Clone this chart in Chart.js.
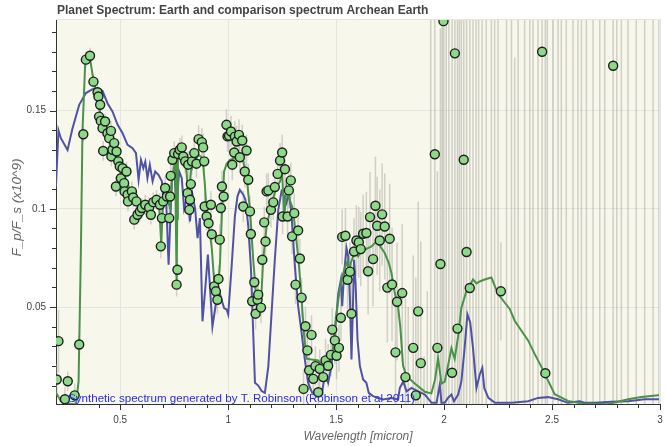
<!DOCTYPE html>
<html>
<head>
<meta charset="utf-8">
<title>Planet Spectrum</title>
<script src="https://cdn.jsdelivr.net/npm/chart.js@4.4.1/dist/chart.umd.min.js"></script>
<style>
    html, body { margin: 0; padding: 0; background: #fff; }
    #wrap { width: 666px; height: 446px; }
</style>
</head>
<body>
<div id="wrap"><canvas id="spectrumChart" width="666" height="446"></canvas></div>
<script>
// observed (binned) spectrum: wavelength [micron], F_p/F_s (x10^9), 1-sigma error
const obsWave = [
    0.206, 0.214, 0.244, 0.257, 0.289, 0.310, 0.329, 0.341, 0.360, 0.376,
    0.395, 0.399, 0.402, 0.407, 0.410, 0.418, 0.421, 0.430, 0.441, 0.449,
    0.457, 0.459, 0.464, 0.472, 0.480, 0.483, 0.491, 0.498, 0.503, 0.511,
    0.518, 0.520, 0.529, 0.534, 0.536, 0.554, 0.560, 0.565, 0.575, 0.580,
    0.591, 0.600, 0.616, 0.634, 0.642, 0.653, 0.668, 0.684, 0.688, 0.693,
    0.699, 0.708, 0.716, 0.727, 0.731, 0.734, 0.742, 0.750, 0.761, 0.765,
    0.768, 0.776, 0.785, 0.792, 0.801, 0.812, 0.815, 0.820, 0.823, 0.827,
    0.832, 0.843, 0.853, 0.863, 0.878, 0.884, 0.889, 0.891, 0.900, 0.909,
    0.920, 0.924, 0.935, 0.943, 0.950, 0.955, 0.961, 0.966, 0.971, 0.979,
    0.992, 0.997, 1.004, 1.013, 1.019, 1.028, 1.031, 1.039, 1.050, 1.054,
    1.065, 1.070, 1.077, 1.085, 1.093, 1.101, 1.105, 1.111, 1.121, 1.127,
    1.136, 1.139, 1.152, 1.158, 1.167, 1.173, 1.178, 1.186, 1.198, 1.209,
    1.216, 1.229, 1.240, 1.250, 1.252, 1.263, 1.275, 1.281, 1.290, 1.296,
    1.306, 1.312, 1.324, 1.332, 1.340, 1.349, 1.358, 1.367, 1.375, 1.386,
    1.394, 1.404, 1.417, 1.424, 1.440, 1.451, 1.463, 1.476, 1.482, 1.494,
    1.502, 1.513, 1.522, 1.528, 1.543, 1.553, 1.564, 1.571, 1.583, 1.594,
    1.605, 1.614, 1.625, 1.640, 1.648, 1.657, 1.671, 1.682, 1.690, 1.702,
    1.713, 1.725, 1.737, 1.748, 1.759, 1.775, 1.782, 1.806, 1.821, 1.834,
    1.857, 1.869, 1.880, 1.892, 1.907, 1.922, 1.938, 1.957, 1.969, 1.983,
    1.991, 1.997, 2.010, 2.022, 2.037, 2.050, 2.062, 2.071, 2.080, 2.091,
    2.104, 2.119, 2.134, 2.148, 2.160, 2.176, 2.195, 2.219, 2.234, 2.250,
    2.263, 2.289, 2.312, 2.327, 2.343, 2.373, 2.397, 2.412, 2.435, 2.454,
    2.469, 2.478, 2.505, 2.528, 2.543, 2.566, 2.597, 2.620, 2.636, 2.659,
    2.690, 2.721, 2.744, 2.783, 2.800, 2.821, 2.852, 2.890, 2.929, 2.968,
    2.995
];
const obsFlux = [
    0.0131, 0.0326, 0.0030, 0.0122, 0.0050, 0.0309, 0.1380, 0.1760, 0.1780, 0.1648,
    0.1594, 0.1572, 0.1470, 0.1530, 0.1448, 0.1411, 0.1295, 0.1445, 0.1385, 0.1360,
    0.1397, 0.1267, 0.1301, 0.1335, 0.1114, 0.1292, 0.1242, 0.1216, 0.1156, 0.1207,
    0.1131, 0.1089, 0.1190, 0.1072, 0.1038, 0.1089, 0.1058, 0.0945, 0.1038, 0.0970,
    0.0987, 0.1004, 0.1021, 0.1007, 0.0970, 0.1034, 0.1046, 0.1021, 0.0809, 0.0953,
    0.1038, 0.1106, 0.1063, 0.0953, 0.1063, 0.1168, 0.1250, 0.1284, 0.0614, 0.0690,
    0.1279, 0.1301, 0.1313, 0.1267, 0.1242, 0.1080, 0.1225, 0.0995, 0.1046, 0.1126,
    0.1242, 0.1284, 0.1230, 0.1355, 0.1340, 0.1313, 0.1242, 0.1012, 0.0961, 0.0927,
    0.1021, 0.0871, 0.0605, 0.0580, 0.0537, 0.0643, 0.0843, 0.1004, 0.1114, 0.1063,
    0.1428, 0.1369, 0.1372, 0.1394, 0.1225, 0.1287, 0.1368, 0.1343, 0.1377, 0.1263,
    0.1348, 0.1012, 0.1190, 0.1297, 0.1148, 0.0987, 0.0872, 0.0529, 0.0626, 0.0466,
    0.0537, 0.0563, 0.0497, 0.0741, 0.0931, 0.0834, 0.1089, 0.1094, 0.0995, 0.1033,
    0.1111, 0.1178, 0.1246, 0.1287, 0.0961, 0.1202, 0.0961, 0.1094, 0.1145, 0.0860,
    0.0978, 0.0614, 0.0890, 0.0747, 0.0548, 0.0083, 0.0402, 0.0279, 0.0178, 0.0358,
    0.0134, 0.0199, 0.0066, 0.0185, 0.0143, 0.0228, 0.0201, 0.0256, 0.0385, 0.0330,
    0.0252, 0.0292, 0.0445, 0.0857, 0.0863, 0.0639, 0.0680, 0.0466, 0.0783, 0.0839,
    0.0829, 0.0795, 0.0873, 0.0877, 0.0682, 0.0958, 0.0744, 0.1016, 0.0914, 0.0839,
    0.0972, 0.0910, 0.0599, 0.0848, 0.0615, 0.0269, 0.0527, 0.0571, 0.0143, -0.0100,
    0.0292, 0.0050, 0.0478, 0.0214, -0.0200, -0.0150, 0.2300, 0.1278, 0.0292, 0.0719,
    -0.0300, 0.1956, 0.2600, -0.0800, 0.0165, 0.1792, 0.0390, 0.2400, -0.0600, 0.1250,
    0.0780, 0.0597, 0.2900, -0.1000, 0.3100, -0.0500, 0.2500, -0.1200, 0.2800, -0.0700,
    0.0580, 0.3000, -0.0900, -0.0500, 0.2700, -0.1100, 0.3200, -0.0800, 0.2600, 0.1800,
    0.0163, -0.1300, 0.3400, -0.1000, 0.2900, -0.1500, 0.3300, -0.0900, 0.2800, -0.1400,
    0.3500, -0.1200, 0.3000, 0.1729, -0.1600, 0.3300, -0.1100, 0.3600, -0.1500, 0.3400,
    -0.1300
];
const obsErr = [
    0.008, 0.016, 0.006, 0.005, 0.006, 0.005, 0.004, 0.004, 0.004, 0.004,
    0.004, 0.004, 0.004, 0.004, 0.004, 0.004, 0.005, 0.004, 0.005, 0.005,
    0.005, 0.005, 0.005, 0.005, 0.005, 0.005, 0.005, 0.005, 0.005, 0.005,
    0.005, 0.005, 0.005, 0.005, 0.005, 0.005, 0.005, 0.005, 0.005, 0.005,
    0.005, 0.005, 0.005, 0.005, 0.005, 0.005, 0.005, 0.006, 0.006, 0.006,
    0.006, 0.006, 0.006, 0.006, 0.006, 0.006, 0.006, 0.006, 0.006, 0.006,
    0.006, 0.006, 0.006, 0.006, 0.006, 0.007, 0.007, 0.007, 0.007, 0.007,
    0.007, 0.007, 0.007, 0.007, 0.007, 0.007, 0.007, 0.007, 0.007, 0.007,
    0.007, 0.007, 0.007, 0.007, 0.007, 0.007, 0.008, 0.008, 0.008, 0.008,
    0.008, 0.008, 0.008, 0.008, 0.008, 0.008, 0.008, 0.008, 0.008, 0.008,
    0.008, 0.008, 0.008, 0.008, 0.008, 0.008, 0.008, 0.008, 0.008, 0.008,
    0.008, 0.008, 0.008, 0.008, 0.008, 0.008, 0.009, 0.009, 0.009, 0.009,
    0.009, 0.009, 0.009, 0.009, 0.009, 0.009, 0.009, 0.009, 0.009, 0.009,
    0.010, 0.010, 0.010, 0.010, 0.010, 0.010, 0.010, 0.010, 0.010, 0.010,
    0.010, 0.010, 0.010, 0.010, 0.010, 0.011, 0.011, 0.011, 0.011, 0.012,
    0.012, 0.012, 0.012, 0.014, 0.014, 0.015, 0.015, 0.016, 0.017, 0.018,
    0.018, 0.019, 0.020, 0.021, 0.022, 0.023, 0.024, 0.025, 0.025, 0.026,
    0.026, 0.027, 0.028, 0.028, 0.029, 0.030, 0.030, 0.035, 0.040, 0.060,
    0.047, 0.060, 0.056, 0.062, 0.045, 0.073, 0.300, 0.300, 0.090, 0.120,
    0.250, 0.300, 0.350, 0.350, 0.250, 0.300, 0.250, 0.350, 0.350, 0.300,
    0.300, 0.300, 0.400, 0.400, 0.400, 0.350, 0.400, 0.400, 0.400, 0.400,
    0.025, 0.400, 0.400, 0.227, 0.400, 0.400, 0.400, 0.400, 0.400, 0.300,
    0.300, 0.400, 0.450, 0.400, 0.400, 0.450, 0.450, 0.400, 0.400, 0.450,
    0.450, 0.450, 0.450, 0.350, 0.450, 0.450, 0.450, 0.500, 0.500, 0.500,
    0.500
];

// model: modern Earth
const earthWave = [
    0.202, 0.225, 0.260, 0.295, 0.307, 0.318, 0.325, 0.338, 0.349, 0.360,
    0.372, 0.384, 0.395, 0.406, 0.426, 0.449, 0.480, 0.511, 0.542, 0.573,
    0.603, 0.634, 0.665, 0.680, 0.686, 0.690, 0.696, 0.704, 0.719, 0.731,
    0.742, 0.754, 0.758, 0.761, 0.764, 0.767, 0.781, 0.796, 0.807, 0.816,
    0.827, 0.843, 0.863, 0.881, 0.891, 0.900, 0.912, 0.924, 0.935, 0.950,
    0.961, 0.971, 0.981, 0.993, 1.008, 1.031, 1.054, 1.070, 1.085, 1.101,
    1.116, 1.131, 1.139, 1.152, 1.162, 1.178, 1.201, 1.224, 1.240, 1.250,
    1.260, 1.270, 1.285, 1.301, 1.312, 1.324, 1.337, 1.352, 1.363, 1.386,
    1.417, 1.440, 1.456, 1.471, 1.482, 1.494, 1.510, 1.525, 1.540, 1.553,
    1.559, 1.568, 1.579, 1.594, 1.602, 1.617, 1.633, 1.664, 1.687, 1.710,
    1.725, 1.744, 1.756, 1.772, 1.787, 1.797, 1.810, 1.826, 1.864, 1.911,
    1.941, 1.958, 1.972, 1.988, 2.003, 2.018, 2.034, 2.049, 2.065, 2.080,
    2.103, 2.134, 2.150, 2.165, 2.188, 2.219, 2.250, 2.304, 2.327, 2.389,
    2.420, 2.458, 2.512, 2.574, 2.636, 2.759, 2.852, 2.914, 2.991, 3.000
];
const earthFlux = [
    0.0065, 0.0021, 0.0008, 0.0004, 0.0121, 0.0800, 0.1390, 0.1750, 0.1775, 0.1767,
    0.1682, 0.1614, 0.1580, 0.1496, 0.1436, 0.1360, 0.1275, 0.1190, 0.1106, 0.1038,
    0.1004, 0.1012, 0.1029, 0.1021, 0.0900, 0.0817, 0.0990, 0.1038, 0.1046, 0.1004,
    0.1173, 0.1240, 0.0900, 0.0631, 0.0950, 0.1275, 0.1284, 0.1258, 0.1190, 0.1038,
    0.1190, 0.1240, 0.1275, 0.1258, 0.1140, 0.0987, 0.0900, 0.0800, 0.0631, 0.0580,
    0.0700, 0.0970, 0.1190, 0.1230, 0.1250, 0.1258, 0.1267, 0.1240, 0.1165, 0.0995,
    0.0741, 0.0537, 0.0470, 0.0520, 0.0740, 0.0910, 0.1029, 0.1110, 0.1139, 0.1180,
    0.0953, 0.1114, 0.1046, 0.0995, 0.0877, 0.0758, 0.0588, 0.0350, 0.0237, 0.0233,
    0.0228, 0.0199, 0.0180, 0.0216, 0.0250, 0.0385, 0.0537, 0.0640, 0.0700, 0.0733,
    0.0656, 0.0724, 0.0758, 0.0775, 0.0758, 0.0783, 0.0792, 0.0809, 0.0835, 0.0800,
    0.0775, 0.0724, 0.0673, 0.0570, 0.0500, 0.0400, 0.0200, 0.0148, 0.0110, 0.0068,
    0.0060, 0.0130, 0.0240, 0.0110, 0.0120, 0.0200, 0.0290, 0.0236, 0.0350, 0.0495,
    0.0580, 0.0640, 0.0620, 0.0630, 0.0640, 0.0650, 0.0566, 0.0490, 0.0430, 0.0330,
    0.0260, 0.0180, 0.0056, 0.0022, 0.0009, 0.0005, 0.0030, 0.0042, 0.0050, 0.0055
];

// model: Archean Earth (comparison)
const archWave = [
    0.202, 0.214, 0.225, 0.256, 0.279, 0.310, 0.341, 0.372, 0.395, 0.418,
    0.441, 0.464, 0.488, 0.511, 0.534, 0.557, 0.573, 0.585, 0.596, 0.607,
    0.616, 0.626, 0.637, 0.650, 0.662, 0.677, 0.693, 0.699, 0.711, 0.724,
    0.739, 0.750, 0.761, 0.773, 0.785, 0.796, 0.812, 0.823, 0.835, 0.847,
    0.858, 0.869, 0.881, 0.894, 0.906, 0.915, 0.927, 0.940, 0.955, 0.967,
    0.981, 0.993, 1.000, 1.016, 1.031, 1.043, 1.054, 1.070, 1.080, 1.093,
    1.105, 1.116, 1.124, 1.139, 1.155, 1.170, 1.186, 1.201, 1.216, 1.232,
    1.247, 1.260, 1.270, 1.281, 1.293, 1.309, 1.324, 1.340, 1.355, 1.370,
    1.389, 1.409, 1.432, 1.448, 1.463, 1.478, 1.494, 1.510, 1.522, 1.528,
    1.537, 1.548, 1.556, 1.564, 1.571, 1.577, 1.583, 1.590, 1.599, 1.610,
    1.625, 1.640, 1.651, 1.671, 1.694, 1.717, 1.756, 1.787, 1.795, 1.811,
    1.826, 1.849, 1.880, 1.911, 1.942, 1.965, 1.980, 1.988, 2.003, 2.018,
    2.034, 2.046, 2.065, 2.080, 2.095, 2.108, 2.121, 2.134, 2.150, 2.165,
    2.177, 2.186, 2.205, 2.236, 2.313, 2.389, 2.435, 2.481, 2.528, 2.574,
    2.628, 2.651, 2.697, 2.775, 2.852, 2.929, 3.000
];
const archFlux = [
    0.1110, 0.1400, 0.1360, 0.1300, 0.1410, 0.1530, 0.1590, 0.1610, 0.1614, 0.1600,
    0.1538, 0.1496, 0.1428, 0.1385, 0.1326, 0.1309, 0.1284, 0.1148, 0.1250, 0.1207,
    0.1240, 0.1156, 0.1224, 0.1140, 0.1190, 0.1173, 0.1140, 0.1055, 0.1090, 0.0716,
    0.1140, 0.1190, 0.1020, 0.1190, 0.1156, 0.1000, 0.1070, 0.0936, 0.1070, 0.1000,
    0.0851, 0.0953, 0.0427, 0.0597, 0.0767, 0.0614, 0.0400, 0.0495, 0.0597, 0.0546,
    0.0495, 0.0487, 0.0462, 0.0707, 0.0962, 0.1064, 0.1097, 0.1072, 0.1046, 0.0911,
    0.0707, 0.0368, 0.0114, 0.0100, 0.0072, 0.0063, 0.0199, 0.0470, 0.0741, 0.0995,
    0.1089, 0.1063, 0.1030, 0.1080, 0.0978, 0.0707, 0.0504, 0.0368, 0.0233, 0.0114,
    0.0063, 0.0063, 0.0055, 0.0148, 0.0114, 0.0199, 0.0368, 0.0570, 0.0639, 0.0504,
    0.0673, 0.0800, 0.0758, 0.0537, 0.0233, 0.0470, 0.0741, 0.0622, 0.0334, 0.0199,
    0.0131, 0.0114, 0.0063, 0.0046, 0.0037, 0.0029, 0.0037, 0.0029, 0.0088, 0.0120,
    0.0070, 0.0088, 0.0070, 0.0054, 0.0012, 0.0012, 0.0104, 0.0012, 0.0012, 0.0037,
    0.0054, 0.0020, 0.0054, 0.0120, 0.0290, 0.0463, 0.0421, 0.0290, 0.0088, 0.0155,
    0.0190, 0.0088, 0.0037, 0.0012, 0.0012, 0.0020, 0.0037, 0.0041, 0.0030, 0.0012,
    0.0020, 0.0012, 0.0012, 0.0017, 0.0020, 0.0030, 0.0030
];

const xMajor = [0.5, 1, 1.5, 2, 2.5, 3];
const yMajor = [0.05, 0.1, 0.15];

const chartTitle = 'Planet Spectrum: Earth and comparison spectrum Archean Earth';
const xTitle = 'Wavelength [micron]';
const yTitle = 'F_p/F_s (x10^9)';
const creditText = 'Synthetic spectrum generated by T. Robinson (Robinson et al 2011)';

const FONT = "'Liberation Sans', Arial, Helvetica, sans-serif";

function isMajor(list, v) {
    return list.some(m => Math.abs(m - v) < 1e-6);
}
function onStep(v, step) {
    return Math.abs(v / step - Math.round(v / step)) < 1e-6;
}

// beige plot frame
const plotBackground = {
    id: 'plotBackground',
    beforeDraw(chart) {
        const { ctx, chartArea: a } = chart;
        ctx.save();
        ctx.fillStyle = '#f8f7ec';
        ctx.fillRect(a.left, a.top, a.right - a.left, a.bottom - a.top);
        ctx.restore();
    },
    afterDraw(chart) {
        const { ctx, chartArea: a } = chart;
        ctx.save();
        ctx.strokeStyle = '#e5e5e5';
        ctx.lineWidth = 1;
        ctx.beginPath();
        ctx.moveTo(a.left, a.top + 0.5);
        ctx.lineTo(a.right - 0.5, a.top + 0.5);
        ctx.lineTo(a.right - 0.5, a.bottom);
        ctx.stroke();
        ctx.restore();
    }
};

// grey vertical error bars under the points
const errorBars = {
    id: 'errorBars',
    beforeDatasetsDraw(chart) {
        const { ctx, chartArea: a, scales: { x, y } } = chart;
        ctx.save();
        ctx.beginPath();
        ctx.rect(a.left, a.top, a.right - a.left, a.bottom - a.top);
        ctx.clip();
        ctx.strokeStyle = 'rgba(160, 160, 150, 0.45)';
        ctx.lineWidth = 1.5;
        obsWave.forEach((w, i) => {
            const px = x.getPixelForValue(w);
            ctx.beginPath();
            ctx.moveTo(px, y.getPixelForValue(obsFlux[i] - obsErr[i]));
            ctx.lineTo(px, y.getPixelForValue(obsFlux[i] + obsErr[i]));
            ctx.stroke();
        });
        ctx.restore();
    }
};

// outward major / minor tick marks
const tickMarks = {
    id: 'tickMarks',
    afterDraw(chart) {
        const { ctx, scales: { x, y } } = chart;
        ctx.save();
        ctx.strokeStyle = '#333';
        ctx.lineWidth = 1;
        x.ticks.forEach(t => {
            const px = Math.round(x.getPixelForValue(t.value)) + 0.5;
            const len = isMajor(xMajor, t.value) ? 6 : 4;
            ctx.beginPath();
            ctx.moveTo(px, x.top);
            ctx.lineTo(px, x.top + len);
            ctx.stroke();
        });
        y.ticks.forEach(t => {
            const py = Math.round(y.getPixelForValue(t.value)) + 0.5;
            const len = isMajor(yMajor, t.value) ? 6 : 4;
            ctx.beginPath();
            ctx.moveTo(y.right - len, py);
            ctx.lineTo(y.right, py);
            ctx.stroke();
        });
        ctx.restore();
    }
};

// title, axis labels and the credit line
const textLayer = {
    id: 'textLayer',
    afterDraw(chart) {
        const { ctx, chartArea: a, scales: { x, y } } = chart;
        ctx.save();
        ctx.fillStyle = '#444';
        ctx.font = 'bold 12px ' + FONT;
        ctx.textAlign = 'left';
        ctx.textBaseline = 'alphabetic';
        ctx.fillText(chartTitle, a.left + 1, 14);

        ctx.fillStyle = '#666';
        ctx.font = 'italic 12px ' + FONT;
        ctx.textAlign = 'center';
        ctx.fillText(xTitle, (a.left + a.right) / 2, 440);

        ctx.font = 'italic 13.5px ' + FONT;
        ctx.translate(21, (a.top + a.bottom) / 2 - 4);
        ctx.rotate(-Math.PI / 2);
        ctx.fillText(yTitle, 0, 0);
        ctx.restore();

        ctx.save();
        ctx.fillStyle = '#2b2bf0';
        ctx.font = '11.6px ' + FONT;
        ctx.textAlign = 'left';
        ctx.textBaseline = 'alphabetic';
        ctx.fillText(creditText, x.getPixelForValue(0.258), y.getPixelForValue(0.0018));
        ctx.restore();
    }
};

const ctx = document.getElementById('spectrumChart').getContext('2d');
new Chart(ctx, {
    type: 'scatter',
    data: {
        datasets: [
            {
                label: 'Data',
                data: obsWave.map((w, i) => ({ x: w, y: obsFlux[i] })),
                pointRadius: 4.5,
                pointBackgroundColor: '#8cda88',
                pointBorderColor: '#1e1e1e',
                pointBorderWidth: 1.4,
                clip: 0
            },
            {
                label: 'Earth',
                data: earthWave.map((w, i) => ({ x: w, y: earthFlux[i] })),
                showLine: true,
                pointRadius: 0,
                borderColor: '#4b9249',
                borderWidth: 2,
                clip: 0
            },
            {
                label: 'Archean Earth',
                data: archWave.map((w, i) => ({ x: w, y: archFlux[i] })),
                showLine: true,
                pointRadius: 0,
                borderColor: '#5052a6',
                borderWidth: 2,
                clip: 0
            }
        ]
    },
    options: {
        responsive: false,
        animation: false,
        devicePixelRatio: 1,
        layout: { padding: { top: 19, right: 6, bottom: 0, left: 0 } },
        plugins: {
            legend: { display: false },
            tooltip: { enabled: false },
            title: { display: false }
        },
        scales: {
            x: {
                type: 'linear',
                min: 0.2025,
                max: 3.0,
                afterFit: (scale) => {
                    scale.height = 42;
                    scale.paddingLeft = 0;
                    scale.paddingRight = 0;
                },
                afterBuildTicks: (scale) => {
                    scale.ticks = scale.ticks.filter(t => onStep(t.value, 0.1));
                },
                ticks: {
                    stepSize: 0.1,
                    autoSkip: false,
                    maxRotation: 0,
                    padding: 10,
                    color: '#444',
                    font: { family: FONT, size: 10 },
                    callback: (v) => {
                        const m = xMajor.find(k => Math.abs(k - v) < 1e-6);
                        return m === undefined ? '' : String(m);
                    }
                },
                grid: {
                    drawTicks: false,
                    color: (c) => (c.tick && isMajor(xMajor, c.tick.value)) ? '#e4e4e0' : 'rgba(0,0,0,0)',
                    lineWidth: 1
                },
                border: { display: true, color: '#333', width: 1 }
            },
            y: {
                type: 'linear',
                min: 0.0006,
                max: 0.1967,
                afterFit: (scale) => {
                    scale.width = 56;
                    scale.paddingTop = 0;
                    scale.paddingBottom = 0;
                },
                afterBuildTicks: (scale) => {
                    scale.ticks = scale.ticks.filter(t => onStep(t.value, 0.01));
                },
                ticks: {
                    stepSize: 0.01,
                    autoSkip: false,
                    padding: 10,
                    color: '#444',
                    font: { family: FONT, size: 10 },
                    callback: (v) => {
                        const m = yMajor.find(k => Math.abs(k - v) < 1e-6);
                        return m === undefined ? '' : String(m);
                    }
                },
                grid: {
                    drawTicks: false,
                    color: (c) => (c.tick && isMajor(yMajor, c.tick.value)) ? '#e4e4e0' : 'rgba(0,0,0,0)',
                    lineWidth: 1
                },
                border: { display: true, color: '#333', width: 1 }
            }
        }
    },
    plugins: [plotBackground, errorBars, tickMarks, textLayer]
});
</script>
</body>
</html>
